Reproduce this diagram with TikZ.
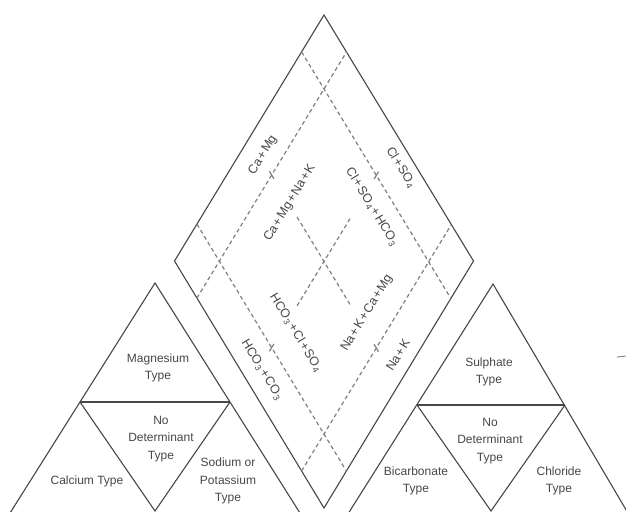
\documentclass[tikz,border=0pt]{standalone}
\usepackage{fontspec}
\setmainfont{Liberation Sans}
\newcommand\ionplus{\kern1.3pt+\kern1.3pt}
\newcommand\sub[1]{\kern0.8pt\textsubscript{#1}}
\begin{document}
\begin{tikzpicture}[x=1pt,y=-1pt,
  frame/.style={draw=black!72, line width=1.1pt, line join=miter},
  guide/.style={draw=black!50, line width=1.2pt, dash pattern=on 4pt off 3pt},
  tick/.style={draw=black!50, line width=1.2pt},
  lbl/.style={text=black!72, font=\fontsize{12}{17.5}\selectfont, align=center, inner sep=0pt},
  ion/.style={text=black!72, font=\fontsize{12.5}{14}\selectfont, inner sep=0pt},
]
\useasboundingbox (0,0) rectangle (626,511);
\fill[white] (0,0) rectangle (626,511);
\clip (0,0) rectangle (626,511);

% ---------- central diamond ----------
\coordinate (T) at (324,15);
\coordinate (L) at (174.5,261);
\coordinate (R) at (473.5,261);
\coordinate (B) at (324,508);
\draw[frame] (T) -- (R) -- (B) -- (L) -- cycle;

% guide lines in the diamond's own frame: (u,v) = L + u(T-L) + v(B-L)
\begin{scope}[shift={(L)}, x={(149.5pt,246pt)}, y={(149.5pt,-247pt)}]
  \draw[guide] (0.15,0) -- (0.15,1);
  \draw[guide] (0.85,0) -- (0.85,1);
  \draw[guide] (0,0.15) -- (1,0.15);
  \draw[guide] (0,0.85) -- (1,0.85);
  \draw[guide] (0.5,0.32) -- (0.5,0.68);
  \draw[guide] (0.32,0.5) -- (0.68,0.5);
  % short marks at the half-way points
  \draw[tick] (0.5,0.135) -- (0.5,0.165);
  \draw[tick] (0.5,0.835) -- (0.5,0.865);
  \draw[tick] (0.135,0.5) -- (0.165,0.5);
  \draw[tick] (0.835,0.5) -- (0.865,0.5);
\end{scope}

% ---------- ion labels ----------
\node[ion, rotate=58.7]  (camg)   at (263,155) {Ca\ionplus Mg};
\node[ion, rotate=58.7]  (camgnak) at (290,203) {Ca\ionplus Mg\ionplus Na\ionplus K};
\node[ion, rotate=-58.7] (clso)   at (401,168) {Cl\ionplus SO\sub{4}};
\node[ion, rotate=-58.7] (clsohco) at (372,207) {Cl\ionplus SO\sub{4}\ionplus HCO\sub{3}};
\node[ion, rotate=-58.7] (hcoclso) at (296,333) {HCO\sub{3}\ionplus Cl\ionplus SO\sub{4}};
\node[ion, rotate=-58.7] (hcoco)  at (262,370) {HCO\sub{3}\ionplus CO\sub{3}};
\node[ion, rotate=58.7]  (nakcamg) at (367,313) {Na\ionplus K\ionplus Ca\ionplus Mg};
\node[ion, rotate=58.7]  (nak)    at (398,355) {Na\ionplus K};

% ---------- cation triangle ----------
\coordinate (ctop) at (155,283);
\coordinate (cml)  at (80,402);
\coordinate (cmr)  at (230,402);
\coordinate (cbl)  at (5,521);
\coordinate (cbr)  at (305,521);
\coordinate (cbot) at (155,511);
\draw[frame] (cbl) -- (ctop) -- (cbr);
\draw[frame] (cml) -- (cmr);
\draw[frame] (cml) -- (cbot) -- (cmr);
\node[lbl] (mg)  at (158,368) {Magnesium\\Type};
\node[lbl] (cnd) at (161,439) {No\\Determinant\\Type};
\node[lbl] (ca)  at (87,481)  {Calcium Type};
\node[lbl] (nak2) at (228,481) {Sodium or\\Potassium\\Type};

% ---------- anion triangle ----------
\coordinate (atop) at (493,284);
\coordinate (aml)  at (417,405);
\coordinate (amr)  at (565,405);
\coordinate (abl)  at (341,525);
\coordinate (abr)  at (635,525);
\coordinate (abot) at (491,511);
\draw[frame] (abl) -- (atop) -- (abr);
\draw[frame] (aml) -- (amr);
\draw[frame] (aml) -- (abot) -- (amr);
\node[lbl] (so4) at (489,372) {Sulphate\\Type};
\node[lbl] (and) at (490,441) {No\\Determinant\\Type};
\node[lbl] (hco) at (416,481) {Bicarbonate\\Type};
\node[lbl] (cl)  at (559,481) {Chloride\\Type};

% stray mark at the right margin
\draw[black!45, line width=1pt] (617,357) -- (626,356);
\end{tikzpicture}
\end{document}
